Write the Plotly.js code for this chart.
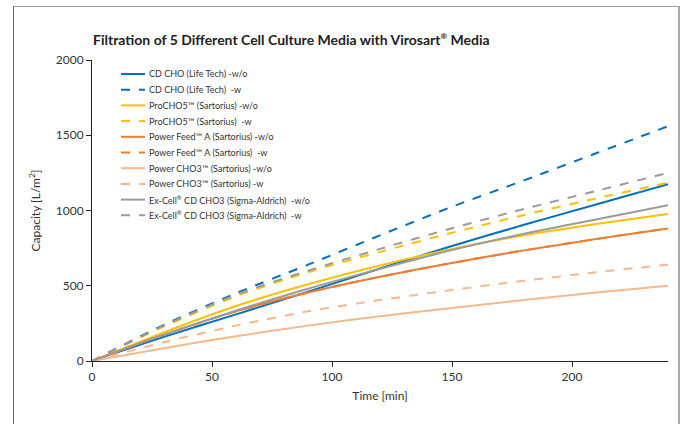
<!DOCTYPE html>
<html>
<head>
<meta charset="utf-8">
<script src="https://cdn.plot.ly/plotly-3.0.1.min.js"></script>
<style>
html,body{margin:0;padding:0;background:#fff;}
#chart{width:686px;height:424px;}
#frame{position:absolute;left:13px;top:6px;width:664px;height:430px;border-left:1px solid #666;border-top:1px solid #999;border-right:2px solid #aaa;pointer-events:none;}
</style>
</head>
<body>
<div id="chart"></div>
<div id="frame"></div>
<script>
const time = [0, 30, 60, 90, 120, 150, 180, 210, 240];

const cdChoWo      = [0, 160, 310, 460, 615, 764, 905, 1040, 1175];
const cdChoW       = [0, 240, 450, 640, 835, 1025, 1200, 1380, 1560];
const proCho5Wo    = [0, 190, 365, 510, 635, 744, 835, 910, 977];
const proCho5W     = [0, 230, 430, 590, 725, 852, 970, 1080, 1185];
const powerFeedWo  = [0, 175, 330, 455, 560, 651, 735, 810, 880];
const powerFeedW   = [0, 175, 330, 455, 560, 651, 735, 810, 882];
const powerCho3Wo  = [0, 85, 165, 235, 297, 352, 405, 455, 500];
const powerCho3W   = [0, 125, 235, 330, 405, 472, 533, 590, 640];
const exCellWo     = [0, 175, 335, 480, 612, 737, 845, 940, 1035];
const exCellW      = [0, 235, 440, 600, 745, 882, 1010, 1130, 1250];

const names = [
  "CD CHO (Life Tech) -w/o",
  "CD CHO (Life Tech)  -w",
  "ProCHO5™ (Sartorius) -w/o",
  "ProCHO5™ (Sartorius)  -w",
  "Power Feed™ A (Sartorius) -w/o",
  "Power Feed™ A (Sartorius)  -w",
  "Power CHO3™ (Sartorius) -w/o",
  "Power CHO3™ (Sartorius) -w",
  "Ex-Cell<sup><span style='font-size:6px'>®</span></sup> CD CHO3 (Sigma-Aldrich)  -w/o",
  "Ex-Cell<sup><span style='font-size:6px'>®</span></sup> CD CHO3 (Sigma-Aldrich)  -w"
];
const series = [cdChoWo, cdChoW, proCho5Wo, proCho5W, powerFeedWo, powerFeedW, powerCho3Wo, powerCho3W, exCellWo, exCellW];
const colors = ["#0070C0","#0070C0","#FFC000","#FFC000","#ED7D31","#ED7D31","#F8B88B","#F8B88B","#9B9B9B","#9B9B9B"];

const traces = series.map((s, i) => ({
  x: time, y: s, name: names[i], type: 'scatter', mode: 'lines', showlegend: false,
  line: {color: colors[i], width: 2, dash: i % 2 ? 'dash' : 'solid', shape: 'spline', smoothing: 0.8}
}));

// custom compact legend (plot area: x 92..668 px, y 60..361 px)
const PL = 92, PW = 576, PT = 60, PH = 301;
const px2x = p => (p - PL) / PW;
const py2y = p => (PT + PH - p) / PH;
const shapes = [], annotations = [];
names.forEach((n, i) => {
  const py = 74 + i * 15.7;
  shapes.push({type: 'line', xref: 'paper', yref: 'paper', x0: px2x(121), x1: px2x(145), y0: py2y(py), y1: py2y(py),
    line: {color: colors[i], width: 2, dash: i % 2 ? 'dash' : 'solid'}});
  annotations.push({xref: 'paper', yref: 'paper', x: px2x(147), y: py2y(py), xanchor: 'left', yanchor: 'middle',
    text: n, showarrow: false, font: {size: 9, color: '#333'}});
});

const layout = {
  width: 686, height: 424, autosize: false,
  margin: {l: 92, r: 18, t: 60, b: 63},
  paper_bgcolor: '#fff', plot_bgcolor: '#fff',
  font: {family: 'Lato, "Open Sans", sans-serif', color: '#333', size: 12},
  title: {text: '<b>Filtration of 5 Different Cell Culture Media with Virosart<sup><span style="font-size:8px">®</span></sup> Media</b>', x: 93/686, xanchor: 'left', xref: 'container', y: 1 - 40/424, yanchor: 'middle', yref: 'container', font: {size: 14, color: '#222'}},
  xaxis: {range: [0, 240], tickvals: [0, 50, 100, 150, 200], showline: true, linecolor: '#222', linewidth: 1, ticks: 'outside', ticklen: 5, tickcolor: '#222', showgrid: false, zeroline: false, tickfont: {size: 12, color: '#333'}, title: {text: 'Time [min]', font: {size: 12, color: '#333'}, standoff: 8}},
  yaxis: {range: [0, 2000], tickvals: [0, 500, 1000, 1500, 2000], showline: true, linecolor: '#222', linewidth: 1, ticks: 'outside', ticklen: 5, tickcolor: '#222', showgrid: false, zeroline: false, tickfont: {size: 12, color: '#333'}, title: {text: 'Capacity [L/m<sup>2</sup>]', font: {size: 12, color: '#333'}, standoff: 12}},
  shapes: shapes,
  annotations: annotations,
  showlegend: false
};
Plotly.newPlot('chart', traces, layout, {displayModeBar: false, staticPlot: true});
</script>
</body>
</html>
